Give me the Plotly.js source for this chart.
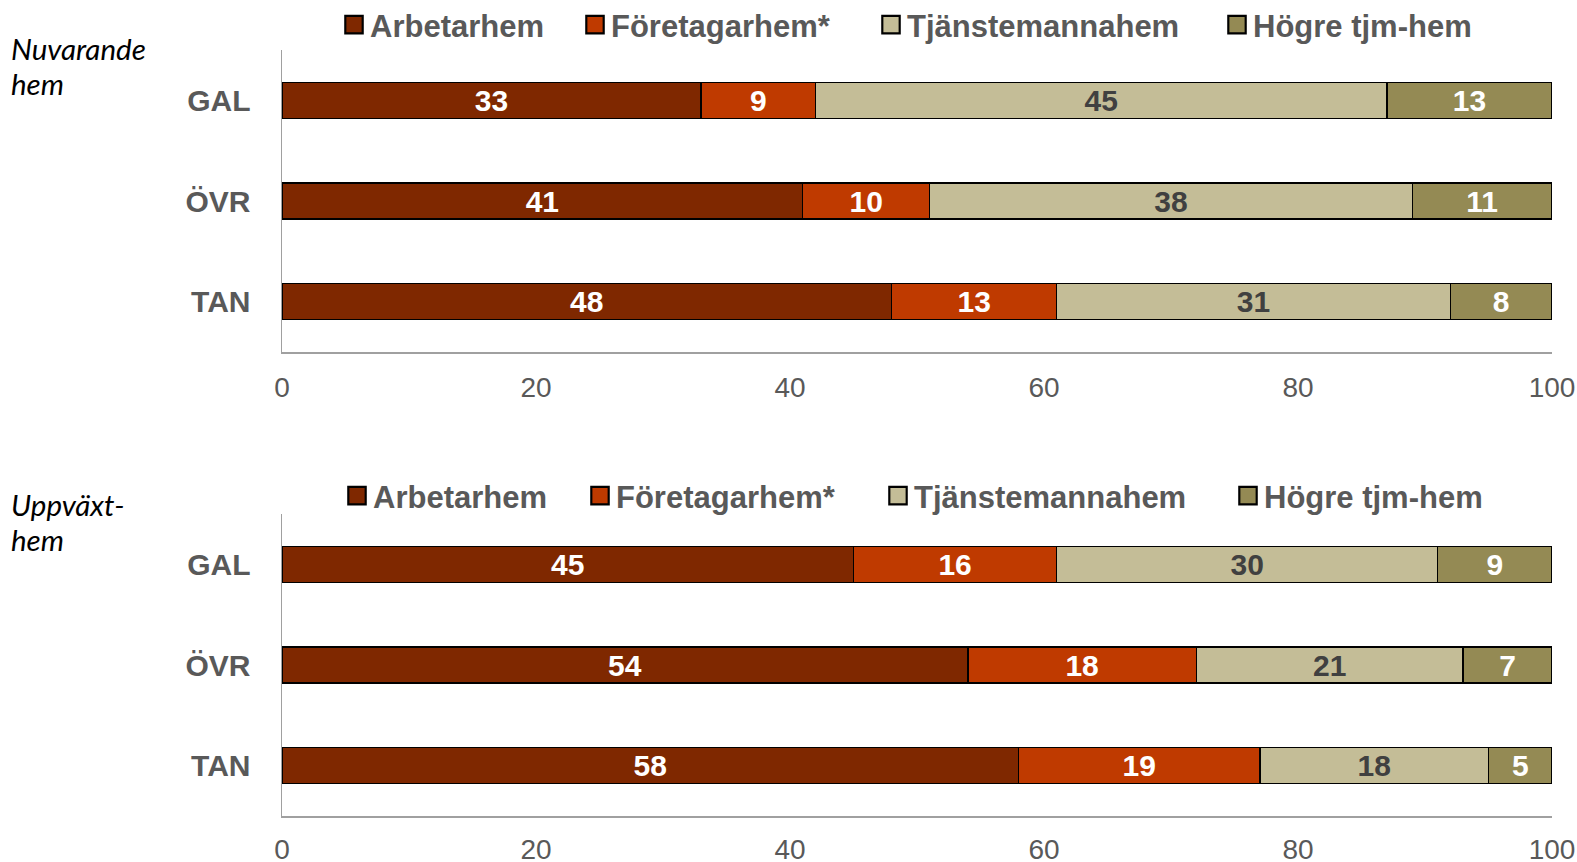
<!DOCTYPE html>
<html>
<head>
<meta charset="utf-8">
<script src="https://cdn.plot.ly/plotly-3.0.1.min.js"></script>
<style>html,body{margin:0;padding:0;background:#fff;}#chart{width:1577px;height:862px;}</style>
</head>
<body>
<div id="chart"></div>
<script>
const categories = ["GAL", "ÖVR", "TAN"];
const seriesNames = ["Arbetarhem", "Företagarhem*", "Tjänstemannahem", "Högre tjm-hem"];
const seriesColors = ["#7F2800", "#BF3A00", "#C4BD97", "#948A54"];
const labelColors = ["#FFFFFF", "#FFFFFF", "#404040", "#FFFFFF"];
// Nuvarande hem
const nuArbetar = [33, 41, 48];
const nuForetagar = [9, 10, 13];
const nuTjansteman = [45, 38, 31];
const nuHogre = [13, 11, 8];
// Uppväxthem
const uppArbetar = [45, 54, 58];
const uppForetagar = [16, 18, 19];
const uppTjansteman = [30, 21, 18];
const uppHogre = [9, 7, 5];
const xTicks = [0, 20, 40, 60, 80, 100];
const panelTitleLines = [["Nuvarande", "hem"], ["Uppväxt-", "hem"]];

const W = 1577, H = 862;
const L = 282, R = 25;
const PW = W - L - R;
const FONT = "Liberation Sans, Arial, sans-serif";

// legend entry text start (px) and vertical centre for each panel
const legendTextStart = [[371, 612, 908, 1254], [374, 617, 915, 1265]];
const legendCenterY = [28, 496];
const titleLineY = [[48, 83], [504, 539]];

const panels = [
  {vals: [nuArbetar, nuForetagar, nuTjansteman, nuHogre], xa: "x", ya: "y"},
  {vals: [uppArbetar, uppForetagar, uppTjansteman, uppHogre], xa: "x2", ya: "y2"}
];

function px2paperY(py) { return 1 - py / H; }
function px2paperX(px) { return (px - L) / PW; }

const traces = [];
const layout = {
  width: W,
  height: H,
  margin: {l: L, r: R, t: 0, b: 0, pad: 0},
  paper_bgcolor: "#FFFFFF",
  plot_bgcolor: "#FFFFFF",
  barmode: "stack",
  bargap: 0.642,
  showlegend: true
};

let legendIdx = 0;
panels.forEach((p, pi) => {
  p.vals.forEach((v, si) => {
    legendIdx += 1;
    const lname = legendIdx === 1 ? "legend" : "legend" + legendIdx;
    traces.push({
      type: "bar",
      orientation: "h",
      name: seriesNames[si],
      x: v,
      y: categories,
      xaxis: p.xa,
      yaxis: p.ya,
      legend: lname,
      marker: {color: seriesColors[si], line: {color: "#000000", width: 1.5}},
      text: v.map(String),
      textposition: "inside",
      insidetextanchor: "middle",
      textangle: 0,
      constraintext: "none",
      textfont: {family: FONT, size: 30, color: labelColors[si], weight: "bold"},
      hoverinfo: "skip"
    });
    layout[lname] = {
      orientation: "h",
      xref: "paper",
      yref: "paper",
      x: px2paperX(legendTextStart[pi][si] - 41),
      y: px2paperY(legendCenterY[pi]),
      xanchor: "left",
      yanchor: "middle",
      bgcolor: "rgba(0,0,0,0)",
      borderwidth: 0,
      font: {family: FONT, size: 31, color: "#595959", weight: "bold"}
    };
  });
});

const xaxisBase = {
  range: [0, 100],
  tickvals: xTicks,
  ticktext: xTicks.map(String),
  showgrid: false,
  zeroline: false,
  showline: true,
  linecolor: "#A0A0A0",
  linewidth: 1.5,
  ticks: "outside",
  ticklen: 10,
  tickcolor: "rgba(0,0,0,0)",
  tickfont: {family: FONT, size: 28, color: "#595959"},
  automargin: false,
  fixedrange: true
};
const yaxisBase = {
  type: "category",
  categoryorder: "array",
  categoryarray: categories,
  range: [2.5, -0.5],
  showgrid: false,
  zeroline: false,
  showline: true,
  linecolor: "#A0A0A0",
  linewidth: 1.5,
  ticks: "outside",
  ticklen: 24,
  tickcolor: "rgba(0,0,0,0)",
  tickfont: {family: FONT, size: 30, color: "#595959", weight: "bold"},
  automargin: false,
  fixedrange: true
};

layout.xaxis = Object.assign({}, xaxisBase, {anchor: "y", domain: [0, 1]});
layout.yaxis = Object.assign({}, yaxisBase, {anchor: "x", domain: [px2paperY(352), px2paperY(50)]});
layout.xaxis2 = Object.assign({}, xaxisBase, {anchor: "y2", domain: [0, 1], ticklen: 8});
layout.yaxis2 = Object.assign({}, yaxisBase, {anchor: "x2", domain: [px2paperY(816), px2paperY(514)]});
layout.annotations = [];
panelTitleLines.forEach((lines, pi) => {
  lines.forEach((line, li) => {
    layout.annotations.push({
      text: line, xref: "paper", yref: "paper", x: px2paperX(9), y: px2paperY(titleLineY[pi][li]),
      xanchor: "left", yanchor: "middle", align: "left", showarrow: false,
      font: {family: "Lato, sans-serif", size: 29.5, color: "#000000", style: "italic"}
    });
  });
});

Plotly.newPlot("chart", traces, layout, {staticPlot: true, displayModeBar: false}).then(function (gd) {
  // enlarge legend swatches to match the reference squares
  gd.querySelectorAll(".legendpoints path").forEach(function (p) {
    const t = p.getAttribute("transform") || "";
    const b = p.getBBox();
    const cx = b.x + b.width / 2, cy = b.y + b.height / 2;
    p.setAttribute("transform", "translate(4,0) " + t + " translate(" + cx + "," + cy + ") scale(1.45) translate(" + (-cx) + "," + (-cy) + ")");
  });
  // nudge the top-panel legends up slightly (plotly clamps them inside the page)
  gd.querySelectorAll(".infolayer > g").forEach(function (g) {
    const cls = g.getAttribute("class") || "";
    if (!/^legend\d*$/.test(cls.trim())) return;
    const t = g.getAttribute("transform") || "";
    const m = /translate\(\s*([-\d.]+)[ ,]+([-\d.]+)\s*\)/.exec(t);
    if (m && parseFloat(m[2]) < 100) {
      g.setAttribute("transform", "translate(" + m[1] + "," + (parseFloat(m[2]) - 3) + ")");
    }
  });
});
</script>
</body>
</html>
